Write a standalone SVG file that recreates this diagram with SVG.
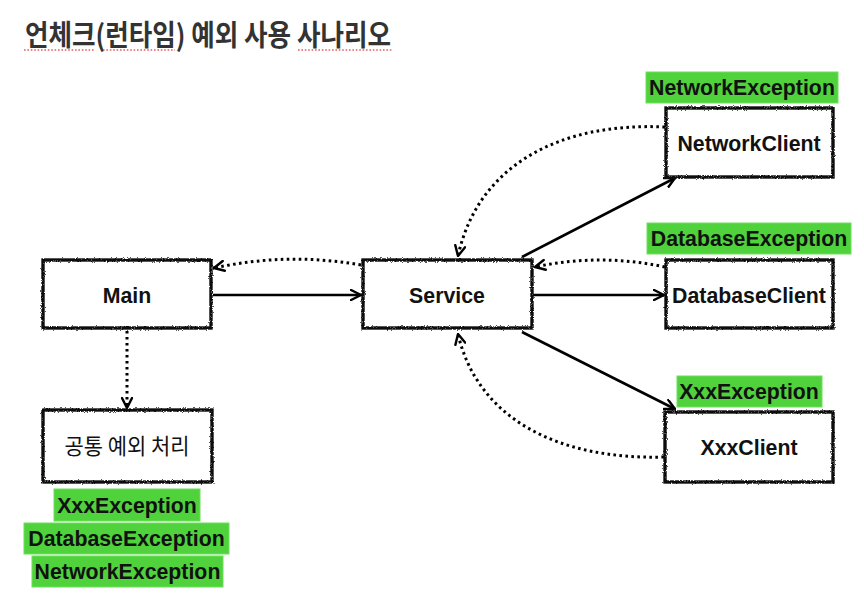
<svg xmlns="http://www.w3.org/2000/svg" width="864" height="599" viewBox="0 0 864 599">
<defs>
  <filter id="rough" x="-5%" y="-10%" width="110%" height="120%">
    <feTurbulence type="fractalNoise" baseFrequency="1.2" numOctaves="2" seed="3" result="n"/>
    <feDisplacementMap in="SourceGraphic" in2="n" scale="3" xChannelSelector="R" yChannelSelector="G"/>
  </filter>
  <marker id="arr" viewBox="0 0 12 12" refX="11" refY="6" markerWidth="12" markerHeight="12" markerUnits="userSpaceOnUse" orient="auto">
    <path d="M1,1 L11,6 L1,11" fill="none" stroke="#000" stroke-width="2.4" stroke-linecap="round" stroke-linejoin="round"/>
  </marker>
  <style>
    .box{fill:#fff;stroke:#111;stroke-width:3.4}
    .lbl{font-family:"Liberation Sans",Arial,sans-serif;font-weight:bold;font-size:21.3px;fill:#111;text-anchor:middle}
    .kr{font-family:"Noto Sans CJK KR","Noto Sans",sans-serif;font-size:22px;fill:#111;text-anchor:middle}
    .exc{fill:#4fd23b;stroke:#6fe05c;stroke-width:1}
    .solid{fill:none;stroke:#000;stroke-width:2.6;marker-end:url(#arr)}
    .dot{fill:none;stroke:#000;stroke-width:3;stroke-dasharray:2.6 3.4;marker-end:url(#arr)}
    .sq{fill:none;stroke:#e0605a;stroke-width:1.6;stroke-dasharray:1.6 1.8}
  </style>
</defs>
<rect width="864" height="599" fill="#fff"/>

<g id="title">
  <text x="25" y="46" font-family="'Noto Sans CJK KR','Noto Sans',sans-serif" font-weight="bold" font-size="29" fill="#333" textLength="366" lengthAdjust="spacingAndGlyphs">언체크(런타임) 예외 사용 사나리오</text>
  <line class="sq" x1="24" y1="50" x2="94" y2="50"/>
  <line class="sq" x1="103" y1="50" x2="175" y2="50"/>
  <line class="sq" x1="298" y1="50" x2="393" y2="50"/>
</g>

<g id="connectors">
  <line class="solid" x1="213" y1="295" x2="361" y2="295"/>
  <path class="dot" d="M361,265 Q288,252 214,268"/>
  <line class="solid" x1="522" y1="257" x2="675" y2="178"/>
  <path class="dot" d="M665,127 C560,122 478,165 458,256"/>
  <line class="solid" x1="533" y1="295" x2="664" y2="295"/>
  <path class="dot" d="M665,267 Q600,253 535,267"/>
  <line class="solid" x1="522" y1="332" x2="675" y2="409"/>
  <path class="dot" d="M664,457 C560,460 478,420 458,334"/>
  <line class="dot" x1="127" y1="331" x2="127" y2="408"/>
</g>

<g id="main">
  <rect class="box" x="43" y="260" width="168" height="68" filter="url(#rough)"/>
  <text class="lbl" x="127" y="302.5">Main</text>
</g>
<g id="service">
  <rect class="box" x="363" y="260" width="169" height="68" filter="url(#rough)"/>
  <text class="lbl" x="447" y="302.5">Service</text>
</g>
<g id="networkclient">
  <rect class="box" x="666" y="108" width="167" height="69" filter="url(#rough)"/>
  <text class="lbl" x="749" y="150.5">NetworkClient</text>
</g>
<g id="databaseclient">
  <rect class="box" x="666" y="260" width="167" height="68" filter="url(#rough)"/>
  <text class="lbl" x="749" y="302.5">DatabaseClient</text>
</g>
<g id="xxxclient">
  <rect class="box" x="665" y="412" width="168" height="70" filter="url(#rough)"/>
  <text class="lbl" x="749" y="454.5">XxxClient</text>
</g>
<g id="common">
  <rect class="box" x="43" y="410" width="169" height="72" filter="url(#rough)"/>
  <text class="kr" x="127" y="454" textLength="125" lengthAdjust="spacingAndGlyphs">공통 예외 처리</text>
</g>

<g id="exc-network">
  <rect class="exc" x="646" y="72" width="192" height="31"/>
  <text class="lbl" x="742" y="95">NetworkException</text>
</g>
<g id="exc-database">
  <rect class="exc" x="647" y="223" width="204" height="31"/>
  <text class="lbl" x="749" y="246">DatabaseException</text>
</g>
<g id="exc-xxx">
  <rect class="exc" x="677" y="376" width="145" height="31"/>
  <text class="lbl" x="749" y="399">XxxException</text>
</g>
<g id="exc-left">
  <rect class="exc" x="54" y="489" width="146" height="32"/>
  <text class="lbl" x="127" y="512.5">XxxException</text>
  <rect class="exc" x="24" y="523" width="205" height="31"/>
  <text class="lbl" x="126.5" y="546">DatabaseException</text>
  <rect class="exc" x="32" y="556" width="191" height="31"/>
  <text class="lbl" x="127.5" y="579">NetworkException</text>
</g>
</svg>
